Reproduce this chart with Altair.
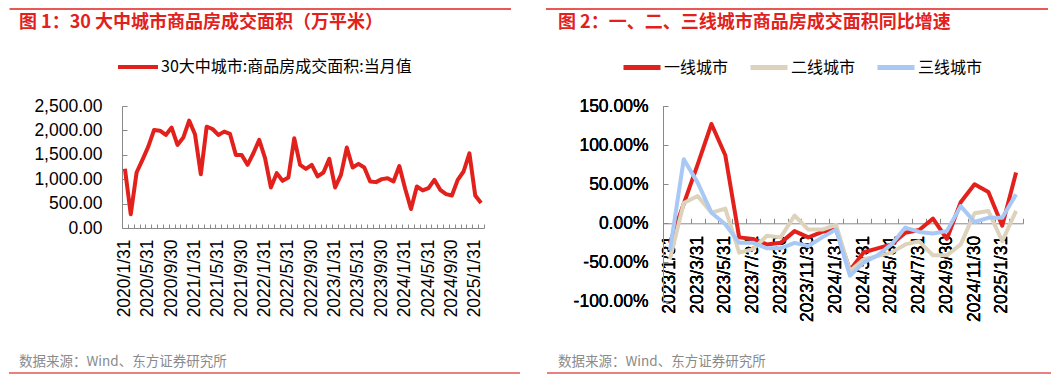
import calendar
import altair as alt
import pandas as pd

# ---------------- data ----------------
def month_ends(y, m, n):
    out = []
    for _ in range(n):
        out.append(f"{y}/{m}/{calendar.monthrange(y, m)[1]}")
        m += 1
        if m > 12:
            m, y = 1, y + 1
    return out

dates1 = month_ends(2020, 1, 62)          # 2020/1 .. 2025/2
dates2 = month_ends(2023, 1, 26)          # 2023/1 .. 2025/2

legend1 = "30大中城市:商品房成交面积:当月值"
area_30 = [1212, 280, 1137, 1396, 1668, 2009, 1995, 1907, 2057, 1702,
           1852, 2200, 1920, 1103, 2077, 2029, 1907, 1975, 1927, 1498,
           1498, 1294, 1532, 1805, 1430, 831, 1124, 967, 1035, 1839,
           1294, 1212, 1294, 1056, 1137, 1416, 831, 1090, 1648, 1239,
           1314, 1239, 953, 940, 1001, 1021, 953, 1270, 803, 390,
           851, 770, 817, 987, 783, 695, 667, 987, 1158, 1530,
           667, 511]

series2 = ["一线城市", "二线城市", "三线城市"]
tier1 = [-25, 25, 75, 127, 87, -18, -20, -27, -25, -10, -18, -11, -8,
         -60, -37, -32, -27, -12, -8.5, 6, -20, 27, 50, 40, -3, 65]
tier2 = [-46, 26, 35, 13.6, 18.8, -37.5, -33, -16, -18, 10, -8, -8, -2,
         -61, -46, -42, -37.5, -27, -23, -41, -41, -27, 12.8, 15.8, -23, 15.8]
tier3 = [-35, 82, 52, 13.6, -1.3, -25, -25, -32, -32, -25, -29, -18, -8,
         -67, -50, -41, -27, -5.5, -11, -13, -10, 22, 1.7, 7, 7, 37]

yticks1 = [0, 500, 1000, 1500, 2000, 2500]
yticks2 = [-1.0, -0.5, 0.0, 0.5, 1.0, 1.5]

title1 = "图 1：30 大中城市商品房成交面积（万平米）"
title2 = "图 2：一、二、三线城市商品房成交面积同比增速"
source = "数据来源：Wind、东方证券研究所"

# ---------------- style ----------------
FONT = "Liberation Sans"
CJK = "Noto Sans CJK SC"
RED = "#E3211C"
BEIGE = "#DDD3BD"
BLUE = "#A8C8F6"
GRAY = "#898989"
W1, H1 = 362, 122
W2, H2 = 360, 195.5
ZERO2 = H2 * 1.5 / 2.5          # pixel distance from top to the 0% line


def text_layer(text, x, y, size, color, weight="normal"):
    return alt.Chart(pd.DataFrame({"t": [text]})).mark_text(
        align="left", baseline="middle", font=CJK, fontSize=size,
        fontWeight=weight, color=color
    ).encode(x=alt.value(x), y=alt.value(y), text="t:N")


def hrule(x1, x2, y, color, width):
    return alt.Chart(pd.DataFrame({"k": [0]})).mark_rule(
        color=color, strokeWidth=width
    ).encode(x=alt.value(x1), x2=alt.value(x2), y=alt.value(y))


def legend(x, y, size, sw):
    return alt.Legend(
        orient="none", legendX=x, legendY=y, direction="horizontal", title=None,
        symbolType="stroke", symbolSize=size, symbolStrokeWidth=sw,
        labelFont=CJK, labelFontSize=16, labelColor="#000", labelOffset=1,
        labelLimit=400, columnPadding=11, padding=0,
    )


label_axis = dict(title=None, labelFont=FONT, labelFontSize=17.5, labelColor="#000",
                  domainColor=GRAY, grid=False, ticks=False, tickSize=0)

# ---------------- left panel ----------------
df1 = pd.DataFrame({"date": dates1, "value": area_30, "series": [legend1] * len(dates1)})
xs1 = alt.Scale(type="band", domain=dates1, paddingInner=0, paddingOuter=0)
ys1 = alt.Scale(domain=[0, 2500], nice=False)

line1 = alt.Chart(df1).mark_line(strokeWidth=4, strokeJoin="round").encode(
    x=alt.X("date:N", scale=xs1, bandPosition=0.5,
            axis=alt.Axis(orient="bottom", values=dates1[::4], labelAngle=-90,
                          labelAlign="right", labelBaseline="middle",
                          labelPadding=11, labelOverlap=False, **label_axis)),
    y=alt.Y("value:Q", scale=ys1,
            axis=alt.Axis(orient="left", values=yticks1, format=",.2f",
                          labelPadding=20, **label_axis)),
    color=alt.Color("series:N", scale=alt.Scale(domain=[legend1], range=[RED]),
                    legend=legend(-6, -61, 1600, 4)),
)
ticks1 = alt.Chart(df1).mark_line(strokeOpacity=0).encode(
    x=alt.X("date:N", scale=xs1,
            axis=alt.Axis(title=None, orient="top", offset=-H1, labels=False,
                          domain=False, tickSize=4, tickBand="extent",
                          tickColor=GRAY, grid=False)),
    y=alt.Y("value:Q", scale=ys1,
            axis=alt.Axis(title=None, orient="right", offset=-W1, labels=False,
                          domain=False, tickSize=5, values=yticks1,
                          tickColor=GRAY, grid=False)),
)
left = alt.layer(
    line1, ticks1,
    hrule(-112.5, 389, -97, RED, 1.5),
    text_layer(title1, -103, -83, 18, RED, "bold"),
    text_layer(source, -103, 256, 13.5, "#8a8a8a"),
    hrule(-113, 398, 267, "#E98080", 2),
).resolve_axis(x="independent", y="independent").properties(width=W1, height=H1)

# ---------------- right panel ----------------
xs2 = alt.Scale(type="band", domain=dates2, paddingInner=0, paddingOuter=0)
ys2 = alt.Scale(domain=[-1.0, 1.5], nice=False, zero=False)
cs2 = alt.Scale(domain=series2, range=[RED, BEIGE, BLUE])
pct_expr = "(datum.value < 0 ? '-' : '') + format(abs(datum.value), '.2%')"

layers2 = []
for name, vals in zip(series2, [tier1, tier2, tier3]):
    d = pd.DataFrame({"date": dates2, "value": [v / 100 for v in vals], "series": [name] * len(dates2)})
    layers2.append(alt.Chart(d).mark_line(strokeWidth=4, strokeJoin="round").encode(
        x=alt.X("date:N", scale=xs2, bandPosition=0.5,
                axis=alt.Axis(orient="bottom", offset=-(H2 - ZERO2), values=dates2[::2],
                              labelAngle=-90, labelAlign="right", labelBaseline="middle",
                              labelPadding=12, labelOverlap=False, domain=False,
                              **label_axis)),
        y=alt.Y("value:Q", scale=ys2,
                axis=alt.Axis(orient="left", values=yticks2, labelExpr=pct_expr,
                              labelPadding=15, **label_axis)),
        color=alt.Color("series:N", scale=cs2, legend=legend(-42, -59.5, 1369, 5)),
    ))
d2 = pd.DataFrame({"date": dates2, "value": [v / 100 for v in tier1]})
ticks2 = alt.Chart(d2).mark_line(strokeOpacity=0).encode(
    x=alt.X("date:N", scale=xs2,
            axis=alt.Axis(title=None, orient="top", offset=-ZERO2, labels=False,
                          domain=True, domainColor=GRAY, tickSize=5, tickBand="extent",
                          tickColor=GRAY, grid=False)),
    y=alt.Y("value:Q", scale=ys2,
            axis=alt.Axis(title=None, orient="right", offset=-W2, labels=False,
                          domain=False, tickSize=5, values=yticks2,
                          tickColor=GRAY, grid=False)),
)
right = alt.layer(
    *layers2, ticks2,
    hrule(-117, 385, -97, RED, 1.5),
    text_layer(title2, -105, -83, 18, RED, "bold"),
    text_layer(source, -105, 256, 13.5, "#8a8a8a"),
    hrule(-116, 388, 267, "#E98080", 2),
).resolve_axis(x="independent", y="independent").properties(width=W2, height=H2)

chart = alt.hconcat(left, right, spacing=24).resolve_scale(color="independent").properties(
    padding=0, background="white"
).configure_view(strokeWidth=0)

chart.save("out.html", embed_options={"renderer": "svg", "actions": False})
